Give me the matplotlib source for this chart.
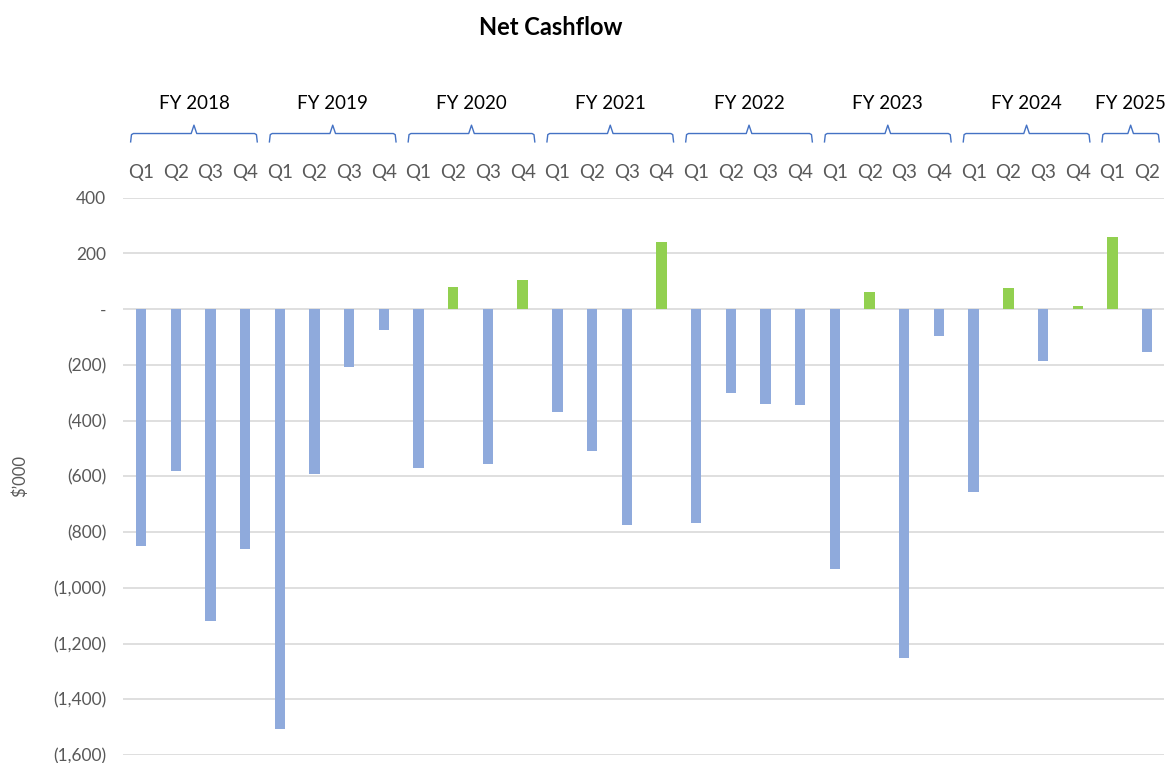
import matplotlib.pyplot as plt
import matplotlib.transforms as mtransforms
from matplotlib.ticker import FuncFormatter

plt.rcParams['font.family'] = ['Lato', 'DejaVu Sans']

# data ($'000), FY2018 Q1 .. FY2025 Q2
years = ["FY 2018", "FY 2019", "FY 2020", "FY 2021", "FY 2022", "FY 2023", "FY 2024", "FY 2025"]
quarters_per_year = [4, 4, 4, 4, 4, 4, 4, 2]
quarter_names = ["Q1", "Q2", "Q3", "Q4"]
net_cashflow = [
    -850, -580, -1120, -860,
    -1505, -590, -208, -75,
    -570, 80, -557, 105,
    -369, -509, -776, 241,
    -769, -301, -340, -345,
    -931, 61, -1251, -95,
    -656, 77, -187, 11,
    257, -153,
]

BLUE = "#8FAADC"
GREEN = "#92D050"
GREY = "#595959"
BRACE = "#4472C4"

labels = [quarter_names[q] for n in quarters_per_year for q in range(n)]
x = list(range(len(net_cashflow)))
colors = [GREEN if v > 0 else BLUE for v in net_cashflow]

fig = plt.figure(figsize=(11.76, 7.63), dpi=100)
ax = fig.add_axes([0.1046, 0.0105, 0.885, 0.7305])

ax.bar(x, net_cashflow, width=0.3, color=colors, zorder=3)

ax.set_ylim(-1600, 400)
ax.set_xlim(-0.52, 29.48)
ax.set_yticks(range(-1600, 401, 200))


def fmt(v, pos):
    if v == 0:
        return "-"
    if v < 0:
        return f"({abs(v):,.0f})"
    return f"{v:,.0f}"


ax.yaxis.set_major_formatter(FuncFormatter(fmt))
ax.grid(axis="y", color="#D9D9D9", linewidth=1.2, zorder=0)
for s in ax.spines.values():
    s.set_visible(False)
ax.tick_params(axis="y", length=0, pad=12, labelsize=12.5, labelcolor=GREY)

ax.xaxis.tick_top()
ax.set_xticks(x)
ax.set_xticklabels(labels)
ax.tick_params(axis="x", length=0, pad=12, labelsize=13.5, labelcolor=GREY)

ax.set_ylabel("$\u2019000", color=GREY, fontsize=12, labelpad=18)

# year groups with braces
trans = mtransforms.blended_transform_factory(ax.transData, ax.transAxes)
start = 0
for year, n in zip(years, quarters_per_year):
    x0 = start - 0.3
    x1 = start + n - 1 + 0.35
    xc = (x0 + x1) / 2
    y_end, y_line, y_peak = 1.100, 1.115, 1.130
    d = 0.08
    bx = [x0, x0 + d * 0.3, x0 + d, xc - d, xc, xc + d, x1 - d, x1 - d * 0.3, x1]
    by = [y_end, y_line - 0.002, y_line, y_line, y_peak, y_line, y_line, y_line - 0.002, y_end]
    ax.plot(bx, by, color=BRACE, linewidth=1, transform=trans, clip_on=False)
    ax.text(xc, 1.168, year, transform=trans, ha="center", va="center",
            fontsize=13.5, color="black")
    start += n

fig.text(0.468, 0.964, "Net Cashflow", ha="center", va="center",
         fontsize=17, fontweight="bold", color="black")

fig.savefig("out.png", dpi=100)
